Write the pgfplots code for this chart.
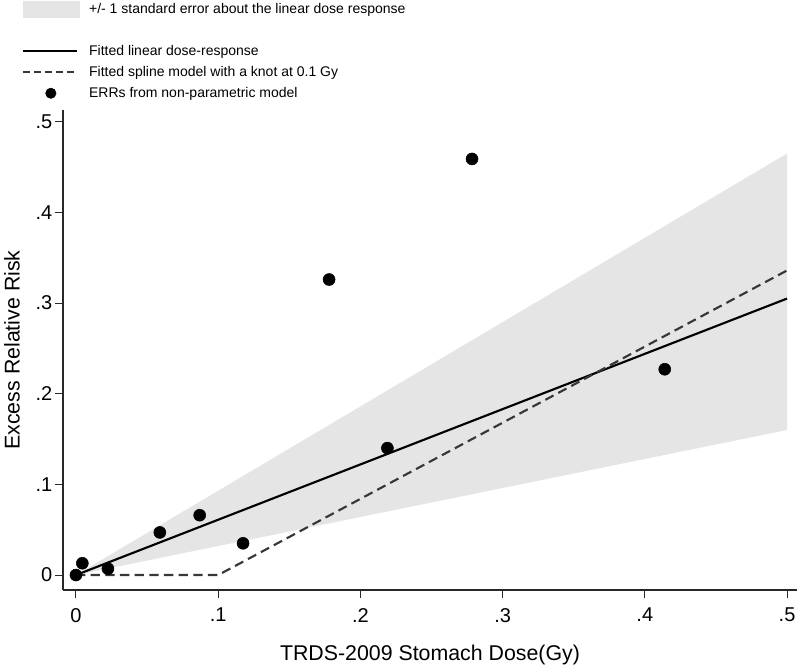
\documentclass[border=0pt]{standalone}
\usepackage{fontspec}
\setmainfont{Liberation Sans}
\usepackage{pgfplots}
\pgfplotsset{compat=1.18}
\definecolor{bandgray}{RGB}{229,229,229}
\definecolor{splinegray}{RGB}{55,55,55}
\definecolor{axisgray}{RGB}{40,40,40}

\begin{document}
\begin{tikzpicture}
\useasboundingbox (-47.25pt,-60pt) rectangle (552.75pt,442.5pt);
\begin{axis}[
  at={(0pt,0pt)}, anchor=south west,
  scale only axis, width=550.5pt, height=360pt,
  xmin=-0.0091, xmax=0.507, ymin=-0.0165, ymax=0.513,
  axis lines*=left,
  axis line style={line width=0.8pt, axisgray},
  tick align=outside, major tick length=6pt,
  tick style={line width=0.8pt, axisgray},
  xtick={0,0.1,0.2,0.3,0.4,0.5}, xticklabels={0,.1,.2,.3,.4,.5},
  ytick={0,0.1,0.2,0.3,0.4,0.5}, yticklabels={0,.1,.2,.3,.4,.5},
  ticklabel style={font=\fontsize{15}{18}\selectfont},
  xticklabel style={yshift=-4pt},
  yticklabel style={xshift=1.5pt},
  xlabel={TRDS-2009 Stomach Dose(Gy)},
  ylabel={Excess Relative Risk},
  label style={font=\fontsize{16}{19}\selectfont},
  xlabel style={at={(axis description cs:0.5,-0.1354)}, anchor=center},
  ylabel style={at={(axis description cs:-0.0695,0.5)}, anchor=center},
  clip=false,
  legend cell align=left,
  legend style={at={(0,1)}, anchor=north west, xshift=-30.75pt, yshift=81.75pt,
    draw=none, fill=none, inner sep=0pt, outer sep=0pt,
    row sep=3.75pt, column sep=7.5pt,
    font=\fontsize{10.5}{12.6}\selectfont,
    nodes={inner sep=0pt, text height=9pt, text depth=3pt}},
]
% +/- 1 SE band around the linear fit
\addplot[fill=bandgray, draw=none, forget plot] coordinates {
  (0,0) (0.5,0.465) (0.5,0.160) (0,0)
};
% linear dose-response
\addplot[black, line width=1.6pt, forget plot] coordinates {
  (0,0) (0.5,0.305)
};
% spline with knot at 0.1 Gy
\addplot[splinegray, line width=1.6pt, dash pattern=on 7pt off 4pt, forget plot] coordinates {
  (0,0) (0.1,0) (0.5,0.336)
};
% non-parametric ERRs
\addplot[only marks, mark=*, mark size=4.5pt, black, forget plot] coordinates {
  (0,0) (0.0045,0.013) (0.0225,0.007) (0.059,0.047) (0.087,0.066)
  (0.1175,0.035) (0.178,0.326) (0.219,0.140) (0.2785,0.459) (0.414,0.227)
};

\addlegendimage{legend image code/.code={\fill[bandgray] (0pt,-5.9pt) rectangle (42pt,5.9pt);}}
\addlegendentry{+/- 1 standard error about the linear dose response}
\addlegendimage{empty legend}
\addlegendentry{}
\addlegendimage{legend image code/.code={\draw[black, line width=1.3pt] (0pt,0pt) -- (40.5pt,0pt);}}
\addlegendentry{Fitted linear dose-response}
\addlegendimage{legend image code/.code={\draw[splinegray, line width=1.3pt, dash pattern=on 5.25pt off 3pt] (0pt,0pt) -- (40.5pt,0pt);}}
\addlegendentry{Fitted spline model with a knot at 0.1 Gy}
\addlegendimage{only marks, mark=*, mark size=3.9pt, black,
  legend image code/.code={\draw[mark repeat=2, mark phase=2] plot coordinates {(0pt,0pt) (21pt,0pt) (42pt,0pt)};}}
\addlegendentry{ERRs from non-parametric model}
\end{axis}
\end{tikzpicture}
\end{document}
